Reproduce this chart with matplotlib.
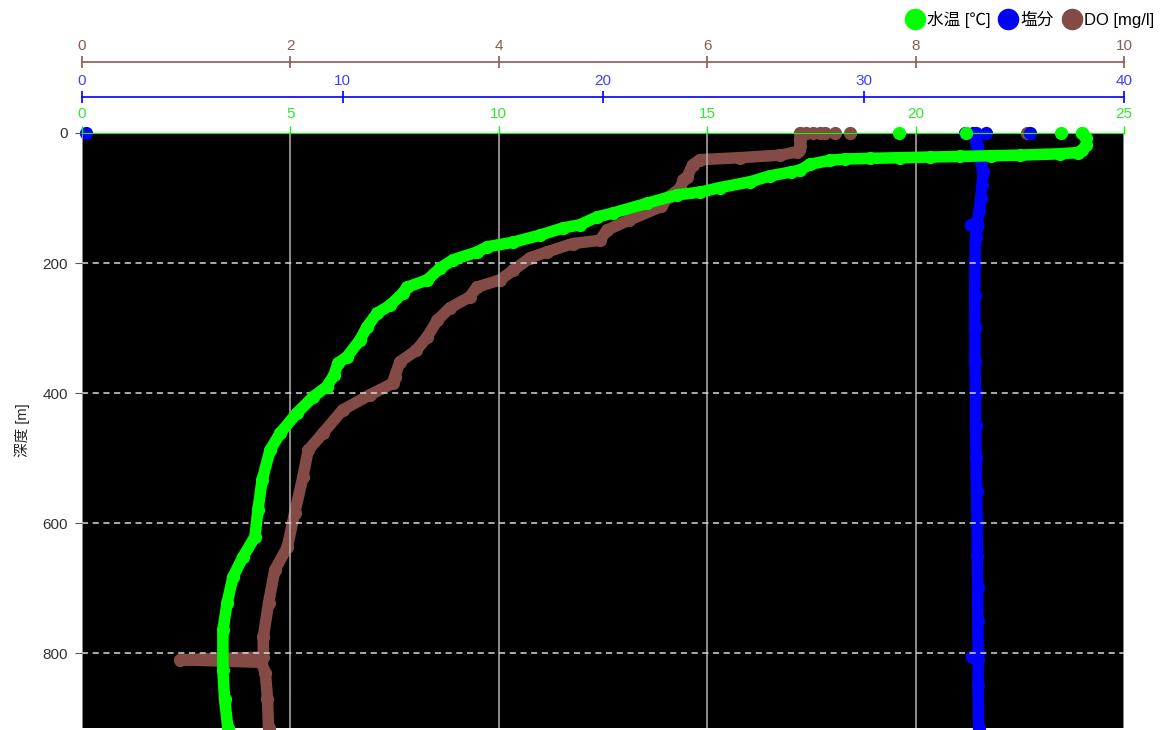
import matplotlib.pyplot as plt
from matplotlib.lines import Line2D

plt.rcParams['font.family'] = ['Liberation Sans', 'Noto Sans CJK JP', 'DejaVu Sans']

# 水温 profile (depth m, degC)
temp_depth = [0, 8, 18, 26, 30, 32, 34, 35, 36, 37, 38, 39, 40, 42, 48, 57, 60, 66, 75, 84,
              91, 95, 108, 123, 129, 141, 146, 157, 168, 175, 183, 195, 208, 226, 237, 246,
              265, 277, 298, 318, 344, 354, 372, 390, 406, 431, 462, 488, 534, 580, 621,
              652, 683, 723, 765, 826, 870, 915]
temp_val = [24.0, 24.1, 24.1, 24.0, 23.9, 23.46, 22.5, 21.8, 21.07, 20.35, 19.63, 18.9, 18.3,
            17.95, 17.47, 17.23, 17.0, 16.5, 16.03, 15.3, 14.83, 14.28, 13.56, 12.74, 12.36,
            11.95, 11.54, 10.99, 10.34, 9.72, 9.48, 8.9, 8.59, 8.28, 7.80, 7.70, 7.39, 7.08,
            6.84, 6.67, 6.36, 6.14, 6.05, 5.87, 5.54, 5.15, 4.75, 4.51, 4.32, 4.22, 4.15,
            3.86, 3.62, 3.48, 3.38, 3.38, 3.42, 3.5]
temp_surface = [19.6, 21.2, 23.5, 24.0]

# 塩分 profile
sal_depth = [0, 10, 20, 30, 45, 60, 80, 100, 120, 138, 141, 144, 160, 200, 250, 300, 350, 400,
             450, 500, 550, 600, 650, 700, 750, 800, 806, 810, 850, 915]
sal_val = [34.3, 34.3, 34.35, 34.4, 34.5, 34.6, 34.55, 34.5, 34.45, 34.35, 34.12, 34.35, 34.3,
           34.28, 34.27, 34.28, 34.28, 34.3, 34.3, 34.32, 34.34, 34.36, 34.37, 34.38, 34.39,
           34.4, 34.15, 34.4, 34.4, 34.42]
sal_surface = [0.15, 33.9, 34.2, 34.7, 36.4]

# DO profile (mg/l)
do_depth = [0, 10, 20, 26, 29, 34, 38, 41, 49, 67, 72, 85, 98, 113, 134, 149, 165, 170, 183,
            192, 211, 226, 237, 252, 269, 288, 314, 334, 352, 375, 385, 403, 426, 462, 488,
            529, 585, 637, 672, 723, 775, 806, 810, 814, 830, 870, 915]
do_val = [6.89, 6.89, 6.89, 6.88, 6.86, 6.70, 6.31, 5.93, 5.86, 5.81, 5.77, 5.74, 5.63, 5.56,
          5.25, 5.04, 4.97, 4.71, 4.46, 4.30, 4.14, 4.01, 3.79, 3.72, 3.53, 3.41, 3.31, 3.21,
          3.05, 3.00, 2.98, 2.76, 2.50, 2.31, 2.17, 2.12, 2.04, 1.97, 1.85, 1.79, 1.74, 1.74,
          0.94, 1.72, 1.76, 1.78, 1.79]
do_surface = [6.95, 7.02, 7.08, 7.13, 7.23, 7.37, 9.07]

depth_ticks = [0, 200, 400, 600, 800]

green, blue, brown = '#00ff00', '#0000ff', '#844a45'

fig = plt.figure(figsize=(11.65, 7.3), dpi=100)
ax = fig.add_axes([82 / 1165, 2 / 730, 1042 / 1165, 595 / 730])
ax_s = ax.twiny()
ax_d = ax.twiny()
ax.xaxis.tick_top()

# stacking: DO axis carries the black background, temperature axis on top
ax_d.set_zorder(1)
ax_d.patch.set_visible(True)
ax_d.patch.set_facecolor('black')
ax_s.set_zorder(2)
ax.set_zorder(3)
ax.patch.set_visible(False)

lw, ms = 8.3, 8.5
ax_d.plot(do_val, do_depth, color=brown, lw=lw, marker='o', ms=ms,
          solid_joinstyle='round', solid_capstyle='round', clip_on=False)
ax_d.plot(do_surface, [0] * len(do_surface), 'o', color=brown, ms=ms, clip_on=False)
ax_s.plot(sal_val, sal_depth, color=blue, lw=lw, marker='o', ms=ms,
          solid_joinstyle='round', solid_capstyle='round', clip_on=False)
ax_s.plot(sal_surface, [0] * len(sal_surface), 'o', color=blue, ms=ms, clip_on=False)
ax.plot(temp_val, temp_depth, color=green, lw=lw, marker='o', ms=ms,
        solid_joinstyle='round', solid_capstyle='round', clip_on=False)
ax.plot(temp_surface, [0] * len(temp_surface), 'o', color=green, ms=ms, clip_on=False)

ax.set_ylim(915, 0)
ax.set_yticks(depth_ticks)
ax.set_xlim(0, 25)
ax.set_xticks([0, 5, 10, 15, 20, 25])
ax_s.set_xlim(0, 40)
ax_s.set_xticks([0, 10, 20, 30, 40])
ax_d.set_xlim(0, 10)
ax_d.set_xticks([0, 2, 4, 6, 8, 10])

ax.grid(axis='x', color='#b4b4b4', lw=1.1)
ax.grid(axis='y', color='#d8d8d8', lw=1.1, ls=(0, (4, 3)))

for a in (ax, ax_s, ax_d):
    for side in ('left', 'right', 'bottom'):
        a.spines[side].set_visible(False)

ax.spines['top'].set_color(green)
ax.tick_params(axis='x', colors=green, labelcolor='#33e633', length=5, width=1,
               labelsize=11, pad=4)
ax.tick_params(axis='y', colors='#555555', labelcolor='#333333', length=5,
               labelsize=11, pad=5)

ax_s.spines['top'].set_position(('outward', 26))
ax_s.spines['top'].set_color(blue)
ax_s.spines['top'].set_linewidth(1.2)
ax_s.tick_params(axis='x', direction='inout', colors=blue, labelcolor='#4040ff',
                 length=9, width=1.2, labelsize=11, pad=2)

ax_d.spines['top'].set_position(('outward', 51))
ax_d.spines['top'].set_color('#8b5a55')
ax_d.spines['top'].set_linewidth(1.2)
ax_d.tick_params(axis='x', direction='inout', colors='#8b5a55', labelcolor='#8b5a55',
                 length=9, width=1.2, labelsize=11, pad=2)

ax.set_ylabel('深度 [m]', fontsize=10.5, color='#222222', labelpad=9)

handles = [Line2D([], [], ls='', marker='o', ms=14.5, color=c) for c in (green, blue, brown)]
fig.legend(handles, ['水温 [℃]', '塩分', 'DO [mg/l]'], loc='upper right',
           bbox_to_anchor=(1.0, 1.0), ncol=3, frameon=False, fontsize=12,
           handletextpad=0.15, columnspacing=0.45, handlelength=1.2, borderaxespad=0.25)

fig.savefig('out.png')
